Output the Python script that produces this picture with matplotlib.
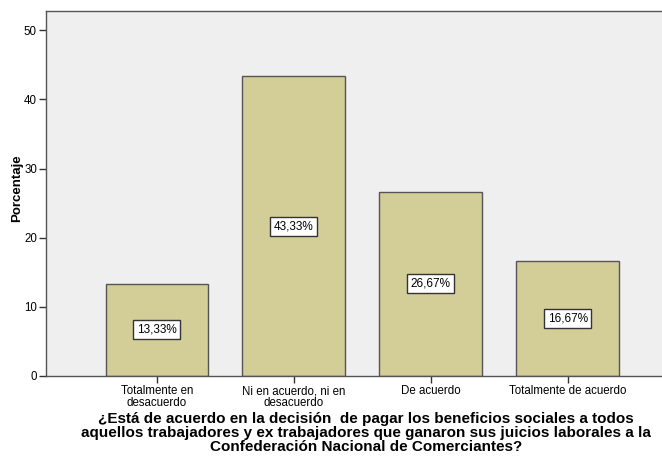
import matplotlib
matplotlib.use("Agg")
import matplotlib.pyplot as plt

categories = ["Totalmente en\ndesacuerdo", "Ni en acuerdo, ni en\ndesacuerdo",
              "De acuerdo", "Totalmente de acuerdo"]
values = [13.33, 43.33, 26.67, 16.67]
yticks = [0, 10, 20, 30, 40, 50]
xlabel = ("¿Está de acuerdo en la decisión  de pagar los beneficios sociales a todos\n"
          "aquellos trabajadores y ex trabajadores que ganaron sus juicios laborales a la\n"
          "Confederación Nacional de Comerciantes?")
ylabel = "Porcentaje"

plt.rcParams['font.family'] = ['Liberation Sans', 'DejaVu Sans']

W, H = 662, 470
fig = plt.figure(figsize=(W / 100, H / 100), dpi=100)
fig.patch.set_facecolor('white')
left, right, top, bottom = 46, 680, 11, 376
ax = fig.add_axes([left / W, 1 - bottom / H, (right - left) / W, (bottom - top) / H])
ax.set_facecolor('#EFEFEF')

x = list(range(len(categories)))
ax.bar(x, values, width=0.75, color='#D3CE98', edgecolor='#555555', linewidth=1.0, zorder=2)
for xi, v in zip(x, values):
    ax.text(xi, v / 2, f"{v:.2f}".replace('.', ',') + "%", ha='center', va='center',
            fontsize=8.5, zorder=3,
            bbox=dict(boxstyle='square,pad=0.3', facecolor='white', edgecolor='#333333', linewidth=1.0))

ax.set_xlim(-0.81, 3.82)
ax.set_ylim(0, 52.8)
ax.set_yticks(yticks)
ax.set_yticklabels([str(t) for t in yticks], fontsize=8.3)
ax.set_xticks(x)
ax.set_xticklabels(categories, fontsize=8.3, linespacing=0.95)
ax.tick_params(axis='both', direction='out', length=5, width=1, color='#333333', pad=1.5)
for s in ax.spines.values():
    s.set_color('#555555')
    s.set_linewidth(1.0)

fig.text(17 / W, 1 - 188 / H, ylabel, rotation=90, ha='center', va='center',
         fontsize=9.5, fontweight='bold')
fig.text(366 / W, 1 - 433 / H, xlabel, ha='center', va='center', fontsize=11,
         fontweight='bold', linespacing=1.0)

fig.savefig("out.png", dpi=100)
